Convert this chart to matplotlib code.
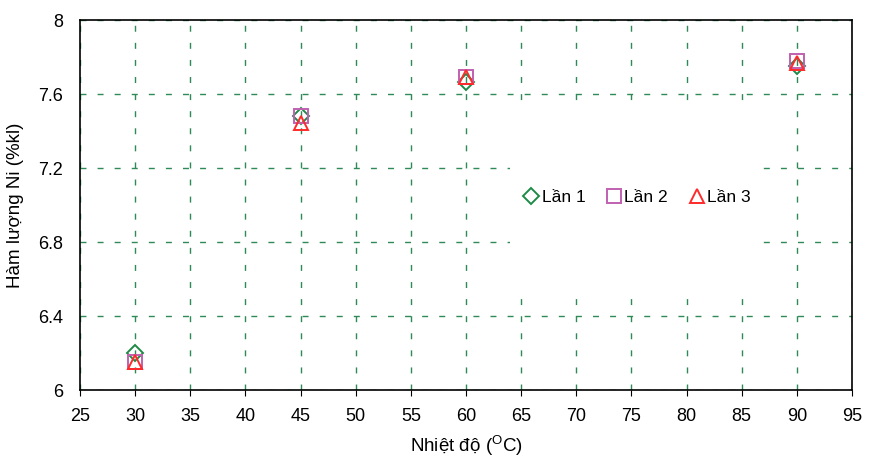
import matplotlib
matplotlib.use("Agg")
import matplotlib.pyplot as plt
from matplotlib.patches import Rectangle

plt.rcParams['font.family'] = ['Liberation Sans', 'DejaVu Sans']
plt.rcParams['mathtext.fontset'] = 'custom'
plt.rcParams['mathtext.rm'] = 'Liberation Sans'

# Data
temps = [30, 45, 60, 90]
lan1 = [6.20, 7.48, 7.665, 7.75]
lan2 = [6.15, 7.48, 7.69, 7.78]
lan3 = [6.15, 7.445, 7.69, 7.765]

series = [
    {'label': 'Lần 1', 'y': lan1, 'marker': 'D', 'ms': 8.5, 'color': '#1f8a46'},
    {'label': 'Lần 2', 'y': lan2, 'marker': 's', 'ms': 9.5, 'color': '#c060b0'},
    {'label': 'Lần 3', 'y': lan3, 'marker': '^', 'ms': 10.5, 'color': '#ff2a2a'},
]

fig = plt.figure(figsize=(8.77, 4.61), dpi=100)
ax = fig.add_axes([0.0912, 0.154, 0.8803, 0.8026])

for s in series:
    ax.plot(temps, s['y'], linestyle='', marker=s['marker'], ms=s['ms'],
            mfc='none', mec=s['color'], mew=1.4, label=s['label'], zorder=5)

ax.set_xlim(25, 95)
ax.set_ylim(6, 8)
ax.set_xticks(range(25, 96, 5))
ax.set_yticks([6, 6.4, 6.8, 7.2, 7.6, 8])
ax.set_yticklabels(['6', '6.4', '6.8', '7.2', '7.6', '8'])
ax.tick_params(axis='x', direction='out', length=4, labelsize=13, pad=9)
ax.tick_params(axis='y', length=0, labelsize=13, pad=12)

ax.grid(True, color='#2e8b57', linestyle=(0, (4.3, 8)), linewidth=1.0)
ax.set_axisbelow(True)
for sp in ax.spines.values():
    sp.set_linewidth(1.2)

# white patch behind the legend
ax.add_patch(Rectangle((0.557, 0.276), 0.321, 0.494, transform=ax.transAxes,
                       facecolor='white', edgecolor='none', zorder=2))
ax.legend(loc='center', bbox_to_anchor=(0.722, 0.52), ncol=3, frameon=False,
          fontsize=12.5, handletextpad=0.2, columnspacing=1.25,
          handlelength=0.8, borderpad=0.2)

ax.set_xlabel(r'Nhiệt độ ($^{\mathrm{O}}$C)', fontsize=13.5, labelpad=6)
ax.set_ylabel('Hàm lượng Ni (%kl)', fontsize=13.5, labelpad=10)

fig.savefig('out.png', dpi=100)
